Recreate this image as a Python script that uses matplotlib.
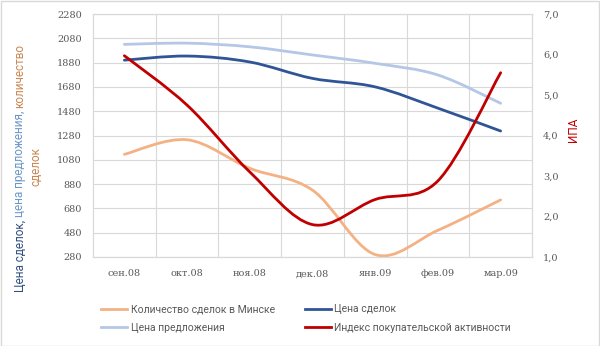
import numpy as np
import matplotlib
matplotlib.use('Agg')
import matplotlib.pyplot as plt
from matplotlib.path import Path
from matplotlib.patches import PathPatch, Rectangle
from matplotlib.lines import Line2D

######################## data #########################

months = ['сен.08', 'окт.08', 'ноя.08', 'дек.08', 'янв.09', 'фев.09', 'мар.09']
dealsCount = [1125, 1245, 1010, 830, 300, 500, 750]
dealPrice = [1900, 1934, 1885, 1750, 1680, 1505, 1317]
offerPrice = [2030, 2040, 2010, 1943, 1874, 1778, 1545]
buyIndex = [5.97, 4.75, 3.1, 1.8, 2.42, 2.88, 5.55]

colOrange = '#F4B183'
colDark = '#2F5597'
colLight = '#B4C7E7'
colRed = '#C00000'
gridCol = '#D9D9D9'
tickCol = '#595959'

######################## smoothLine function #########################

def smoothLine(ax, xs, ys, color, lw=2.0):
    # excel-like smoothed line: cubic bezier through every point
    pts = np.column_stack([xs, ys]).astype(float)
    n = len(pts)
    verts = [pts[0]]
    codes = [Path.MOVETO]
    for i in range(n - 1):
        p0 = pts[i - 1] if i > 0 else pts[i]
        p1 = pts[i]
        p2 = pts[i + 1]
        p3 = pts[i + 2] if i + 2 < n else pts[i + 1]
        verts += [p1 + (p2 - p0) / 6, p2 - (p3 - p1) / 6, p2]
        codes += [Path.CURVE4] * 3
    patch = PathPatch(Path(verts, codes), facecolor='none', edgecolor=color,
                      lw=lw, capstyle='round', joinstyle='round')
    ax.add_patch(patch)
    return Line2D([], [], color=color, lw=lw)


W, H = 600, 346
fig = plt.figure(figsize=(W / 100, H / 100), dpi=100)
ax = fig.add_axes([93 / W, (H - 257) / H, 439 / W, 243 / H])
ax2 = ax.twinx()

x = np.arange(len(months))
hOrange = smoothLine(ax, x, dealsCount, colOrange)
hDark = smoothLine(ax, x, dealPrice, colDark)
hLight = smoothLine(ax, x, offerPrice, colLight)
hRed = smoothLine(ax2, x, buyIndex, colRed)

ax.set_xlim(-0.5, len(months) - 0.5)
ax.set_ylim(280, 2280)
ax.set_yticks(np.arange(280, 2281, 200))
ax2.set_ylim(1, 7)
ax2.set_yticks(np.arange(1, 7.01, 1))
ax2.set_yticklabels([f'{v:.1f}'.replace('.', ',') for v in np.arange(1, 7.01, 1)])
ax.set_xticks(x)
ax.set_xticklabels(months)
ax.set_xticks(np.arange(0.5, len(months) - 1, 1), minor=True)

ax.grid(True, axis='y', color=gridCol, lw=0.8)
ax.grid(True, axis='x', which='minor', color=gridCol, lw=0.8)
ax.set_axisbelow(True)

tickFont = {'family': 'DejaVu Serif', 'size': 7}
for a in (ax, ax2):
    for s in a.spines.values():
        s.set_color(gridCol)
        s.set_linewidth(0.8)
    a.tick_params(which='both', length=0, colors=tickCol)
ax.tick_params(axis='y', pad=8)
ax.tick_params(axis='x', pad=9)
ax2.tick_params(axis='y', pad=8)
for lab in ax.get_xticklabels() + ax.get_yticklabels() + ax2.get_yticklabels():
    lab.set_fontfamily(tickFont['family'])
    lab.set_fontsize(tickFont['size'])

# left multi coloured label, first line built from pieces
labFont = ['Roboto', 'DejaVu Sans']
labSize = 8.5
fig.canvas.draw()
renderer = fig.canvas.get_renderer()
pieces = [('Цена сделок, ', '#2F4F80'), ('цена предложения, ', '#6C97C8'),
          ('количество', '#C98752')]
heights = []
for txt, c in pieces:
    t = fig.text(0, 0, txt, rotation=90, family=labFont, size=labSize)
    heights.append(t.get_window_extent(renderer).height)
    t.remove()
yStart = (H - 168) - sum(heights) / 2
for (txt, c), h in zip(pieces, heights):
    fig.text(20 / W, yStart / H, txt, rotation=90, family=labFont, size=labSize,
             color=c, ha='center', va='bottom')
    yStart += h
fig.text(36 / W, (H - 167) / H, 'сделок', rotation=90, family=labFont,
         size=labSize, color='#C98752', ha='center', va='center')

fig.text(573 / W, (H - 130) / H, 'ИПА', rotation=90, family=labFont,
         size=labSize, color=colRed, ha='center', va='center')

fig.legend([hOrange, hLight, hDark, hRed],
           ['Количество сделок в Минске', 'Цена предложения',
            'Цена сделок', 'Индекс покупательской активности'],
           ncol=2, loc='upper left', bbox_to_anchor=(92 / W, (H - 295) / H),
           frameon=False, prop={'family': labFont, 'size': 7.5},
           handlelength=2.5, handletextpad=0.3, columnspacing=2.9,
           labelspacing=0.8, labelcolor=tickCol)

fig.add_artist(Rectangle((0.5 / W, 0.5 / H), 1 - 1.5 / W, 1 - 1.5 / H,
                         transform=fig.transFigure, fill=False,
                         edgecolor=gridCol, lw=1))

fig.savefig('out.png', dpi=100)
